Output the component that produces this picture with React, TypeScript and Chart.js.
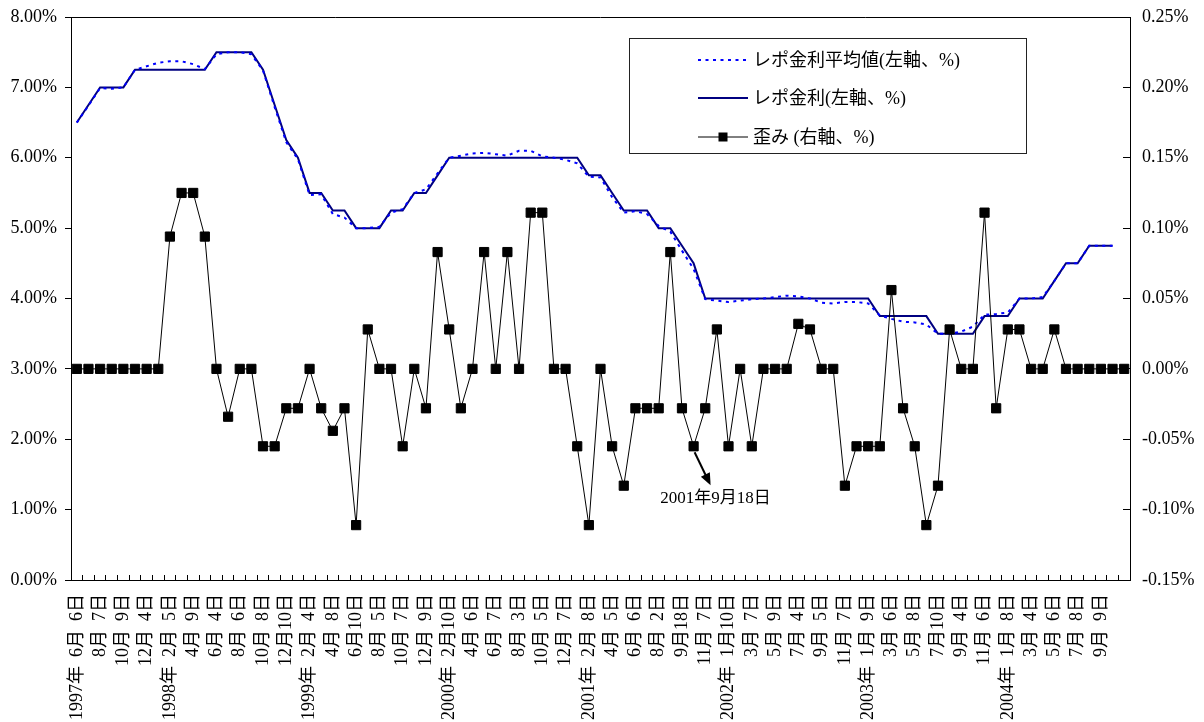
import React, { useEffect, useRef } from 'react';
import { Chart, registerables } from 'chart.js';

Chart.register(...registerables);

const FONT = "'Liberation Serif', 'Noto Sans CJK JP', serif";

// Labels shown under every other meeting (MPC meeting dates)
const tickDates = [
  '1997年6月6日', '8月7日', '10月9日', '12月4日',
  '1998年2月5日', '4月9日', '6月4日', '8月6日', '10月8日', '12月10日',
  '1999年2月4日', '4月8日', '6月10日', '8月5日', '10月7日', '12月9日',
  '2000年2月10日', '4月6日', '6月7日', '8月3日', '10月5日', '12月7日',
  '2001年2月8日', '4月5日', '6月6日', '8月2日', '9月18日', '11月7日',
  '2002年1月10日', '3月7日', '5月9日', '7月4日', '9月5日', '11月7日',
  '2003年1月9日', '3月6日', '5月8日', '7月10日', '9月4日', '11月6日',
  '2004年1月8日', '3月4日', '5月6日', '7月8日', '9月9日',
];

const categoryCount = 91;

// レポ金利 (left axis, %)
const repoRate = [
  6.5, 6.75, 7.0, 7.0, 7.0, 7.25, 7.25, 7.25, 7.25, 7.25,
  7.25, 7.25, 7.5, 7.5, 7.5, 7.5, 7.25, 6.75, 6.25, 6.0,
  5.5, 5.5, 5.25, 5.25, 5.0, 5.0, 5.0, 5.25, 5.25, 5.5,
  5.5, 5.75, 6.0, 6.0, 6.0, 6.0, 6.0, 6.0, 6.0, 6.0,
  6.0, 6.0, 6.0, 6.0, 5.75, 5.75, 5.5, 5.25, 5.25, 5.25,
  5.0, 5.0, 4.75, 4.5, 4.0, 4.0, 4.0, 4.0, 4.0, 4.0,
  4.0, 4.0, 4.0, 4.0, 4.0, 4.0, 4.0, 4.0, 4.0, 3.75,
  3.75, 3.75, 3.75, 3.75, 3.5, 3.5, 3.5, 3.5, 3.75, 3.75,
  3.75, 4.0, 4.0, 4.0, 4.25, 4.5, 4.5, 4.75, 4.75, 4.75,
  null,
];

// レポ金利平均値 (left axis, %)
const repoAverage = [
  6.5, 6.74, 6.99, 6.98, 7.0, 7.25, 7.3, 7.35, 7.37, 7.37,
  7.33, 7.26, 7.47, 7.5, 7.5, 7.47, 7.24, 6.72, 6.22, 5.98,
  5.47, 5.48, 5.2, 5.15, 5.0, 5.0, 5.02, 5.22, 5.27, 5.5,
  5.55, 5.78, 6.0, 6.03, 6.06, 6.07, 6.05, 6.03, 6.1, 6.1,
  6.02, 6.0, 5.97, 5.92, 5.73, 5.72, 5.44, 5.22, 5.24, 5.2,
  5.03, 4.95, 4.68, 4.42, 3.99, 3.97, 3.95, 3.97, 3.99, 4.0,
  4.02, 4.04, 4.03, 4.0, 3.94, 3.93, 3.95, 3.95, 3.93, 3.76,
  3.71, 3.67, 3.66, 3.63, 3.5, 3.5, 3.53, 3.6, 3.77, 3.78,
  3.8, 4.0, 4.0, 4.02, 4.25, 4.5, 4.5, 4.75, 4.75, 4.75,
  null,
];

// 歪み (right axis, %)
const skew = [
  0, 0, 0, 0, 0, 0, 0, 0, 0.094, 0.125,
  0.125, 0.094, 0, -0.034, 0, 0, -0.055, -0.055, -0.028, -0.028,
  0, -0.028, -0.044, -0.028, -0.111, 0.028, 0, 0, -0.055, 0,
  -0.028, 0.083, 0.028, -0.028, 0, 0.083, 0, 0.083, 0, 0.111,
  0.111, 0, 0, -0.055, -0.111, 0, -0.055, -0.083, -0.028, -0.028,
  -0.028, 0.083, -0.028, -0.055, -0.028, 0.028, -0.055, 0, -0.055, 0,
  0, 0, 0.032, 0.028, 0, 0, -0.083, -0.055, -0.055, -0.055,
  0.056, -0.028, -0.055, -0.111, -0.083, 0.028, 0, 0, 0.111, -0.028,
  0.028, 0.028, 0, 0, 0.028, 0, 0, 0, 0, 0,
  0,
];

const seriesNames = ['レポ金利平均値(左軸、%)', 'レポ金利(左軸、%)', '歪み (右軸、%)'];
const annotationIndex = 53;
const annotationText = '2001年9月18日';

const padLabel = (s: string) => s.replace(/(^|年|月)(\d)(?=[月日])/g, '$1  $2');

const categories: string[] = [];
for (let i = 0; i < categoryCount; i++) {
  const lbl = i % 2 === 0 ? tickDates[i / 2] : undefined;
  categories.push(lbl ? padLabel(lbl) : '');
}

const overlayPlugin = {
  id: 'overlay',
  afterDraw(chart: any) {
    const { ctx, chartArea, scales } = chart;
    ctx.save();
    // top border of plot area
    ctx.strokeStyle = '#000';
    ctx.lineWidth = 1;
    ctx.beginPath();
    ctx.moveTo(chartArea.left, Math.round(chartArea.top) + 0.5);
    ctx.lineTo(chartArea.right, Math.round(chartArea.top) + 0.5);
    ctx.stroke();

    // legend box
    const bx = 629.5, by = 38.5, bw = 397, bh = 115;
    ctx.fillStyle = '#fff';
    ctx.fillRect(bx, by, bw, bh);
    ctx.strokeStyle = '#222';
    ctx.lineWidth = 1;
    ctx.strokeRect(bx, by, bw, bh);
    const rows = [60, 98, 137];
    const ds = chart.data.datasets;
    ds.forEach((d: any, i: number) => {
      const y = rows[i];
      ctx.save();
      ctx.strokeStyle = d.borderColor;
      ctx.lineWidth = d.borderWidth;
      ctx.setLineDash(d.borderDash || []);
      ctx.beginPath();
      ctx.moveTo(698, y);
      ctx.lineTo(748, y);
      ctx.stroke();
      ctx.setLineDash([]);
      if (d.pointRadius > 0) {
        ctx.fillStyle = '#000';
        ctx.fillRect(723 - 4.5, y - 4.5, 9, 9);
      }
      ctx.restore();
      ctx.fillStyle = '#000';
      ctx.font = `18px ${FONT}`;
      ctx.textAlign = 'left';
      ctx.textBaseline = 'middle';
      ctx.fillText(d.label, 753, y + 1);
    });

    // annotation arrow for 2001-09-18
    const px = scales.x.getPixelForValue(annotationIndex);
    const py = scales.y1.getPixelForValue(skew[annotationIndex]);
    const sx = px + 1, sy = py + 6;
    const ex = px + 17, ey = py + 39;
    const ang = Math.atan2(ey - sy, ex - sx);
    ctx.strokeStyle = '#000';
    ctx.lineWidth = 2;
    ctx.beginPath();
    ctx.moveTo(sx, sy);
    ctx.lineTo(ex - 9 * Math.cos(ang), ey - 9 * Math.sin(ang));
    ctx.stroke();
    ctx.fillStyle = '#000';
    ctx.beginPath();
    ctx.moveTo(ex, ey);
    ctx.lineTo(ex - 12 * Math.cos(ang) + 5 * Math.sin(ang), ey - 12 * Math.sin(ang) - 5 * Math.cos(ang));
    ctx.lineTo(ex - 12 * Math.cos(ang) - 5 * Math.sin(ang), ey - 12 * Math.sin(ang) + 5 * Math.cos(ang));
    ctx.closePath();
    ctx.fill();
    ctx.font = `17px ${FONT}`;
    ctx.textAlign = 'center';
    ctx.textBaseline = 'middle';
    ctx.fillText(annotationText, px + 22, py + 52);
    ctx.restore();
  },
};

export default function App() {
  const ref = useRef<HTMLCanvasElement | null>(null);
  useEffect(() => {
    if (!ref.current) return;
    Chart.defaults.color = '#000';
    Chart.defaults.font.family = FONT;
    Chart.defaults.font.size = 18;
    const chart = new Chart(ref.current, {
      type: 'line',
      data: {
        labels: categories,
        datasets: [
          {
            label: seriesNames[0],
            data: repoAverage,
            yAxisID: 'y',
            borderColor: '#0000FF',
            borderWidth: 2,
            borderDash: [3, 4.5],
            pointRadius: 0,
            tension: 0,
            order: 1,
          },
          {
            label: seriesNames[1],
            data: repoRate,
            yAxisID: 'y',
            borderColor: '#000080',
            borderWidth: 2,
            pointRadius: 0,
            tension: 0,
            order: 2,
          },
          {
            label: seriesNames[2],
            data: skew,
            yAxisID: 'y1',
            borderColor: '#000',
            borderWidth: 1,
            pointStyle: 'rect',
            pointRadius: 6.5,
            pointBackgroundColor: '#000',
            pointBorderColor: '#000',
            pointBorderWidth: 1,
            tension: 0,
            order: 0,
          },
        ],
      },
      options: {
        responsive: false,
        animation: false,
        layout: { padding: { top: 17, left: 0, right: 0, bottom: 0 } },
        plugins: {
          legend: { display: false },
          tooltip: { enabled: false },
        },
        scales: {
          x: {
            type: 'category',
            offset: true,
            grid: {
              offset: true,
              drawOnChartArea: false,
              drawTicks: true,
              tickLength: -5,
              color: '#000',
              tickColor: '#000',
            },
            border: { display: true, color: '#000', width: 1 },
            ticks: {
              autoSkip: false,
              minRotation: 90,
              maxRotation: 90,
              padding: 19,
              color: '#000',
              font: { family: FONT, size: 18 },
            },
            afterFit: (s: any) => {
              s.height = 142;
              s.paddingLeft = 0;
              s.paddingRight = 0;
            },
          },
          y: {
            position: 'left',
            min: 0,
            max: 8,
            grid: {
              drawOnChartArea: false,
              drawTicks: true,
              tickLength: 6,
              color: '#000',
              tickColor: '#000',
            },
            border: { display: true, color: '#000', width: 1 },
            ticks: {
              stepSize: 1,
              padding: 8,
              color: '#000',
              font: { family: FONT, size: 18 },
              callback: (v: any) => Number(v).toFixed(2) + '%',
            },
            afterFit: (s: any) => {
              s.width = 71;
              s.paddingTop = 0;
              s.paddingBottom = 0;
            },
          },
          y1: {
            position: 'right',
            min: -0.15,
            max: 0.25,
            grid: {
              drawOnChartArea: false,
              drawTicks: true,
              tickLength: -7,
              color: '#000',
              tickColor: '#000',
            },
            border: { display: true, color: '#000', width: 1 },
            ticks: {
              stepSize: 0.05,
              padding: 19,
              color: '#000',
              font: { family: FONT, size: 18 },
              callback: (v: any) => {
                const n = Math.abs(Number(v)) < 1e-9 ? 0 : Number(v);
                return n.toFixed(2) + '%';
              },
            },
            afterFit: (s: any) => {
              s.width = 74;
              s.paddingTop = 0;
              s.paddingBottom = 0;
            },
          },
        },
      },
      plugins: [overlayPlugin],
    });
    return () => chart.destroy();
  }, []);

  return (
    <div style={{ position: 'fixed', left: 0, top: 0, width: 1204, height: 722, background: '#fff' }}>
      <canvas ref={ref} width={1204} height={722} style={{ display: 'block' }} />
    </div>
  );
}
